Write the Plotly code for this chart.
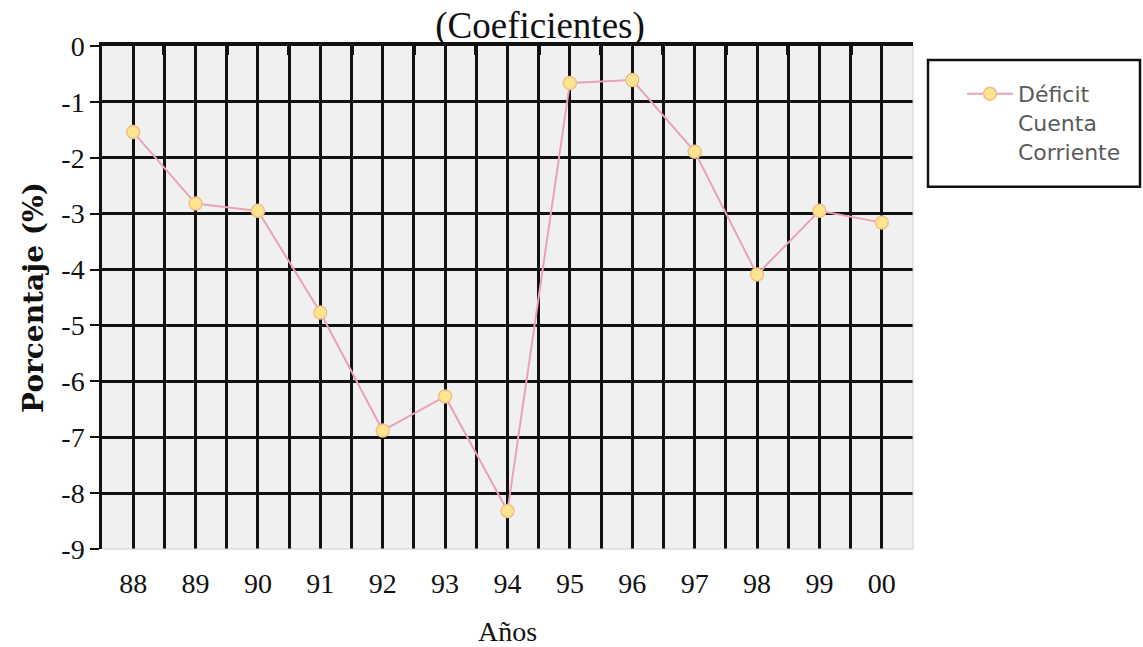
import plotly.graph_objects as go

# Current-account deficit as a share of GDP, 1988-2000
years = ["88", "89", "90", "91", "92", "93", "94", "95", "96", "97", "98", "99", "00"]
deficit = [-1.54, -2.82, -2.95, -4.77, -6.88, -6.27, -8.32, -0.66, -0.61, -1.89, -4.09, -2.95, -3.16]
y_ticks = [0, -1, -2, -3, -4, -5, -6, -7, -8, -9]

pos = list(range(len(years)))
bounds = [i - 0.5 for i in range(len(years) + 1)]

SERIF = "Liberation Serif"
INK = "#111111"

fig = go.Figure()

fig.add_trace(go.Scatter(
    x=pos, y=deficit, mode="lines+markers",
    name="Déficit<br>Cuenta<br>Corriente",
    line=dict(color="#eaa2b6", width=2),
    marker=dict(symbol="circle", size=13, color="#fde48e",
                line=dict(color="#f3bf8c", width=1.5)),
    hoverinfo="skip",
))

# carrier for the top category axis at y = 0
fig.add_trace(go.Scatter(
    x=pos, y=deficit, xaxis="x2", mode="markers",
    marker=dict(opacity=0), showlegend=False, hoverinfo="skip",
))

fig.update_layout(
    width=1143, height=647,
    margin=dict(l=102, r=230, t=46, b=98, autoexpand=False),
    paper_bgcolor="white",
    plot_bgcolor="#f0f0f0",
    font=dict(family=SERIF, color=INK),
    title=dict(text="(Coeficientes)", x=540 / 1143, xref="container", xanchor="center",
               y=1 - 25 / 647, yref="container", yanchor="middle",
               font=dict(family=SERIF, size=37, color=INK)),
    xaxis=dict(
        automargin=False,
        range=[-0.5, len(years) - 0.5],
        tickmode="array", tickvals=pos, ticktext=years,
        ticks="outside", ticklen=9, tickcolor="rgba(0,0,0,0)",
        tickfont=dict(family=SERIF, size=28, color=INK),
        showgrid=True, gridcolor=INK, gridwidth=2.5,
        minor=dict(tickvals=bounds[:-1], showgrid=True, gridcolor=INK, gridwidth=2.5),
        showline=False, zeroline=False,
        title=dict(text="Años", font=dict(family=SERIF, size=28, color=INK), standoff=26),
    ),
    xaxis2=dict(
        automargin=False,
        overlaying="x", side="top", matches="x",
        range=[-0.5, len(years) - 0.5],
        tickmode="array", tickvals=bounds,
        ticks="inside", ticklen=9, tickwidth=3.5, tickcolor=INK,
        showticklabels=False, showgrid=False, zeroline=False,
        showline=True, linecolor=INK, linewidth=3.5,
    ),
    yaxis=dict(
        automargin=False,
        range=[-9, 0],
        tickmode="array", tickvals=y_ticks, ticktext=[str(v) for v in y_ticks],
        ticks="outside", ticklen=9, tickwidth=2, tickcolor=INK,
        tickfont=dict(family=SERIF, size=28, color=INK),
        showgrid=False,
        minor=dict(tickvals=y_ticks[1:-1], showgrid=True, gridcolor=INK, gridwidth=2.5),
        showline=True, linecolor=INK, linewidth=2.5, zeroline=False,
        title=dict(text="<b>Porcentaje (%)</b>",
                   font=dict(family="DejaVu Serif", size=28, color=INK), standoff=10),
    ),
    legend=dict(
        x=(962 - 102) / 811, xanchor="left",
        y=(549 - 72) / 504, yanchor="top",
        bgcolor="rgba(0,0,0,0)", borderwidth=0,
        valign="top", itemwidth=46,
        font=dict(family="DejaVu Sans", size=22, color="#5a5a5a"),
    ),
    shapes=[
        # faint frame on the right and bottom of the plotting area
        dict(type="line", xref="paper", yref="paper", x0=1, x1=1, y0=0, y1=1,
             line=dict(color="#d0d0d0", width=1)),
        dict(type="line", xref="paper", yref="paper", x0=0, x1=1, y0=0, y1=0,
             line=dict(color="#d0d0d0", width=1)),
        # legend frame
        dict(type="rect", xref="paper", yref="paper",
             x0=(928 - 102) / 811, x1=(1140 - 102) / 811,
             y0=(549 - 186) / 504, y1=(549 - 59) / 504,
             line=dict(color=INK, width=2.5), fillcolor="white", layer="below"),
    ],
)

fig.write_html("out.html")
